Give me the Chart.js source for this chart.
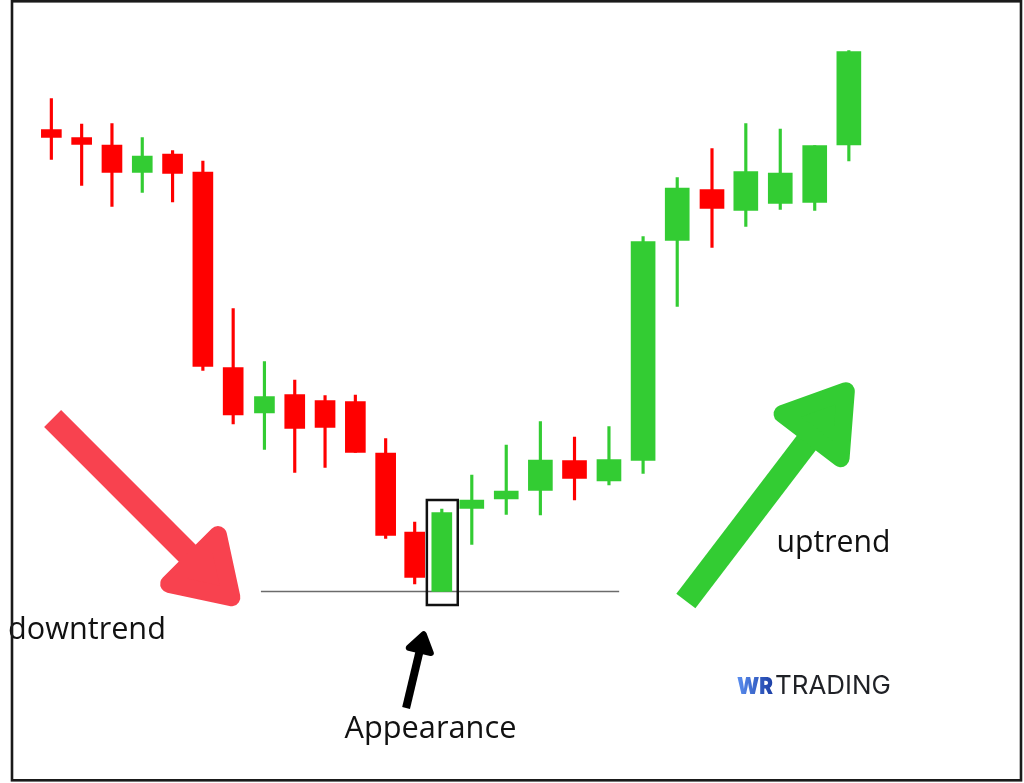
<!DOCTYPE html>
<html>
<head>
<meta charset="utf-8">
<script src="https://cdn.jsdelivr.net/npm/chart.js@4.4.1/dist/chart.umd.min.js"></script>
<style>
html,body{margin:0;padding:0;background:#fff;}
canvas{display:block;}
</style>
</head>
<body>
<canvas id="c" width="1024" height="783"></canvas>
<script>
// ---- data ----
// session time of each candle (uneven spacing as in the original picture)
const candleTimes = [0,0.95,1.90,2.85,3.80,4.75,5.70,6.68,7.63,8.58,9.53,10.48,11.39,12.24,13.18,14.26,15.33,16.40,17.48,18.55,19.62,20.71,21.77,22.85,23.93,25.0];
const openPrices  = [130.7,129.1,127.6,122.1,125.8,122.2,83.1,74.0,77.7,76.5,76.3,66.0,50.2,38.3,54.9,56.8,58.5,64.5,60.4,64.5,108.5,118.7,114.5,115.9,116.1,127.6];
const highPrices  = [136.9,131.8,131.9,129.1,126.5,124.4,94.9,84.3,80.6,77.5,77.6,68.9,52.2,54.8,61.6,67.6,72.3,69.2,71.3,109.3,121.1,126.9,131.9,130.8,127.5,146.5];
const lowPrices   = [124.7,119.5,115.3,118.1,116.2,82.5,71.8,66.7,62.1,63.1,66.1,48.9,39.8,38.3,47.7,53.7,53.6,56.6,59.6,61.9,95.3,107.1,111.3,114.7,114.5,124.4];
const closePrices = [129.1,127.7,122.1,125.4,121.9,83.3,73.6,77.3,70.9,71.1,66.1,49.5,41.1,54.1,56.6,58.4,64.6,60.9,64.7,108.3,119.0,114.9,122.3,122.0,127.5,146.3];
const supportLevel = 38.3;
const supportRange = [6.57, 17.8];      // time span of the support line
const highlightIndex = 13;               // the "Appearance" candle
const highlightRange = [35.6, 56.6];     // price span of the highlight box
const annotationTexts = ['downtrend', 'uptrend', 'Appearance'];
const logoParts = ['WR', 'TRADING'];

const UP = '#33CC33', DOWN = '#FF0000';
const colors = openPrices.map((o, i) => closePrices[i] >= o ? UP : DOWN);
const narrowCount = 14;
const bodyNarrow = openPrices.map((o, i) => ({ x: candleTimes[i], y: i < narrowCount ? [Math.min(o, closePrices[i]), Math.max(o, closePrices[i])] : null }));
const bodyWide = openPrices.map((o, i) => ({ x: candleTimes[i], y: i >= narrowCount ? [Math.min(o, closePrices[i]), Math.max(o, closePrices[i])] : null }));
const wicks = lowPrices.map((l, i) => ({ x: candleTimes[i], y: [l, highPrices[i]] }));

function fitFont(ctx, text, family, weight, width) {
  ctx.font = weight + ' 100px ' + family;
  const w = ctx.measureText(text).width;
  return 100 * width / w;
}

function roundedTriangle(ctx, pts, r, color) {
  const [A, B, C] = pts;
  const a = Math.hypot(B.x - C.x, B.y - C.y), b = Math.hypot(A.x - C.x, A.y - C.y), c = Math.hypot(A.x - B.x, A.y - B.y);
  const p = a + b + c;
  const I = { x: (a * A.x + b * B.x + c * C.x) / p, y: (a * A.y + b * B.y + c * C.y) / p };
  const s = p / 2;
  const area = Math.sqrt(Math.max(0, s * (s - a) * (s - b) * (s - c)));
  const rho = area / s;
  const k = (rho - r) / rho;
  const q = pts.map(P => ({ x: I.x + (P.x - I.x) * k, y: I.y + (P.y - I.y) * k }));
  ctx.beginPath();
  ctx.moveTo(q[0].x, q[0].y); ctx.lineTo(q[1].x, q[1].y); ctx.lineTo(q[2].x, q[2].y); ctx.closePath();
  ctx.fillStyle = color; ctx.strokeStyle = color; ctx.lineWidth = 2 * r; ctx.lineJoin = 'round';
  ctx.fill(); ctx.stroke();
}

function drawArrow(ctx, tx, ty, hx, hy, shaftW, headLen, headHalf, r, color) {
  const dx = hx - tx, dy = hy - ty, L = Math.hypot(dx, dy);
  const ux = dx / L, uy = dy / L, px = -uy, py = ux;
  const bx = hx - ux * headLen, by = hy - uy * headLen;
  ctx.save();
  ctx.beginPath();
  ctx.moveTo(tx, ty); ctx.lineTo(bx + ux * 4, by + uy * 4);
  ctx.strokeStyle = color; ctx.lineWidth = shaftW; ctx.lineCap = 'butt';
  ctx.stroke();
  roundedTriangle(ctx, [{ x: hx, y: hy }, { x: bx + px * headHalf, y: by + py * headHalf }, { x: bx - px * headHalf, y: by - py * headHalf }], r, color);
  ctx.restore();
}

const annotationPlugin = {
  id: 'annotations',
  beforeDatasetsDraw(chart) {
    const ctx = chart.ctx, xs = chart.scales.x, ys = chart.scales.y;
    ctx.save();
    ctx.beginPath();
    ctx.moveTo(xs.getPixelForValue(supportRange[0]), ys.getPixelForValue(supportLevel));
    ctx.lineTo(xs.getPixelForValue(supportRange[1]), ys.getPixelForValue(supportLevel));
    ctx.strokeStyle = '#6b6b6b'; ctx.lineWidth = 1.3;
    ctx.stroke();
    ctx.restore();
  },
  afterDatasetsDraw(chart) {
    const ctx = chart.ctx, xs = chart.scales.x, ys = chart.scales.y;
    const X = v => xs.getPixelForValue(v), Y = v => ys.getPixelForValue(v);
    ctx.save();
    // highlight box
    const ht = candleTimes[highlightIndex];
    const hx0 = X(ht - 0.5), hx1 = X(ht + 0.5);
    ctx.strokeStyle = '#111'; ctx.lineWidth = 2.5;
    ctx.strokeRect(hx0 + 1, Y(highlightRange[1]), hx1 - hx0 - 1, Y(highlightRange[0]) - Y(highlightRange[1]));

    // arrows (anchored in data space)
    drawArrow(ctx, X(0.04), Y(72.9), X(6.01), Y(34.8), 24, 79, 51, 9, '#F8424F');
    drawArrow(ctx, X(19.89), Y(36.4), X(25.22), Y(81.0), 24, 82, 53, 9, '#33CC33');
    drawArrow(ctx, X(11.12), Y(15.0), X(11.71), Y(30.8), 8, 25, 17, 3, '#000');

    // texts
    ctx.fillStyle = '#111'; ctx.textBaseline = 'alphabetic'; ctx.textAlign = 'left';
    const fam = '"Open Sans", "Noto Sans", sans-serif';
    let fs = fitFont(ctx, annotationTexts[0], fam, '400', 158);
    ctx.font = '400 ' + fs + 'px ' + fam; ctx.fillText(annotationTexts[0], 8, 638.5);
    fs = fitFont(ctx, annotationTexts[1], fam, '400', 114);
    ctx.font = '400 ' + fs + 'px ' + fam; ctx.fillText(annotationTexts[1], 776.5, 551.5);
    fs = fitFont(ctx, annotationTexts[2], fam, '400', 172);
    ctx.font = '400 ' + fs + 'px ' + fam; ctx.fillText(annotationTexts[2], 344.5, 738);

    // logo
    const lf = 'Inter, "Open Sans", sans-serif';
    ctx.font = '900 23px ' + lf;
    const wrW = ctx.measureText(logoParts[0]).width;
    ctx.save();
    ctx.translate(737, 693.5);
    ctx.scale(36 / wrW, 1);
    const g = ctx.createLinearGradient(0, 0, wrW, 0);
    g.addColorStop(0, '#5b8ff0'); g.addColorStop(1, '#1c3fa6');
    ctx.fillStyle = g; ctx.fillText(logoParts[0], 0, 0);
    ctx.restore();
    const ls = fitFont(ctx, logoParts[1], lf, '400', 116);
    ctx.font = '400 ' + ls + 'px ' + lf;
    ctx.fillStyle = '#1f2126'; ctx.fillText(logoParts[1], 775, 693.5);

    // frame
    ctx.strokeStyle = '#1a1a1a'; ctx.lineWidth = 2.6;
    ctx.strokeRect(12, 1.3, 1009, 779);
    ctx.restore();
  }
};

new Chart(document.getElementById('c'), {
  type: 'bar',
  data: {
    datasets: [
      { label: 'wick', data: wicks, backgroundColor: colors, barThickness: 2.5, grouped: false, order: 3 },
      { label: 'body', data: bodyNarrow, backgroundColor: colors, barThickness: 20, grouped: false, order: 2 },
      { label: 'body2', data: bodyWide, backgroundColor: colors, barThickness: 24, grouped: false, order: 1 }
    ]
  },
  options: {
    responsive: false,
    animation: false,
    devicePixelRatio: 1,
    layout: { padding: { left: 35.4, right: 159.2, top: 0, bottom: 0 } },
    plugins: { legend: { display: false }, tooltip: { enabled: false }, title: { display: false } },
    scales: {
      x: { type: 'linear', display: false, min: -0.5, max: 25.5, offset: false, grid: { display: false } },
      y: { display: false, min: 0, max: 156.6, grid: { display: false } }
    }
  },
  plugins: [annotationPlugin]
});
</script>
</body>
</html>
